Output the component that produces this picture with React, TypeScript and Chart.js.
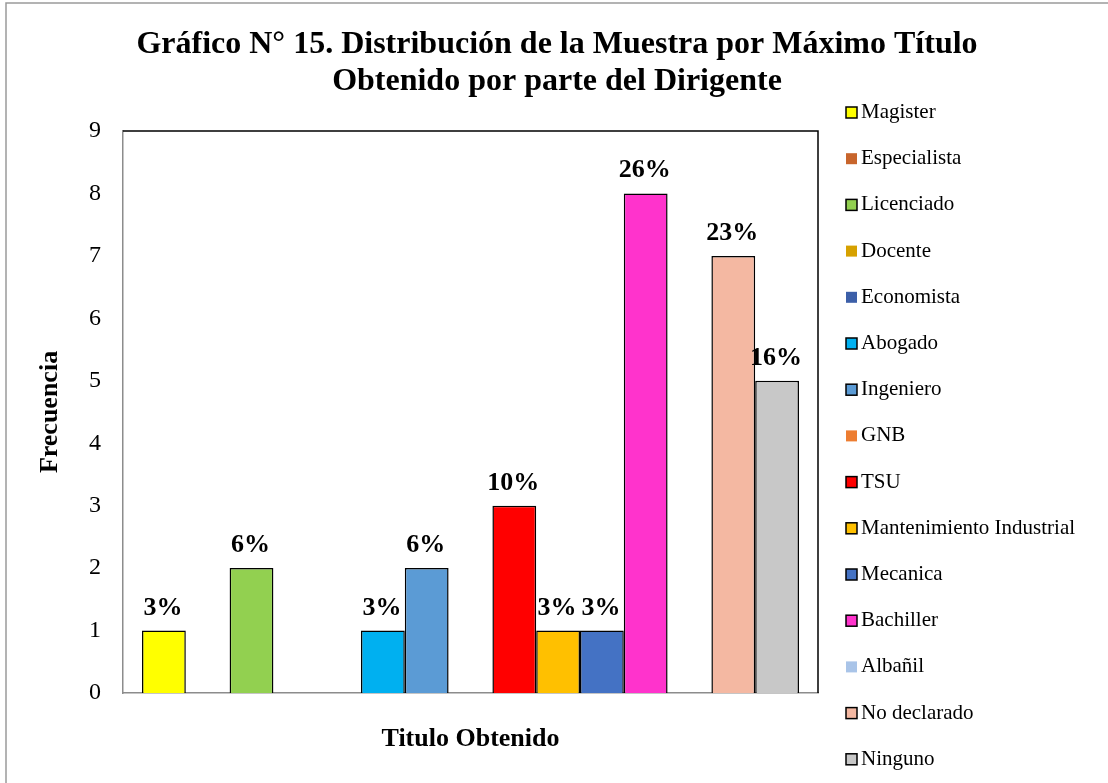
import React, { useEffect, useRef } from 'react';
import { Chart, registerables } from 'chart.js';

Chart.register(...registerables);

const categories = [
  'Magister',
  'Especialista',
  'Licenciado',
  'Docente',
  'Economista',
  'Abogado',
  'Ingeniero',
  'GNB',
  'TSU',
  'Mantenimiento Industrial',
  'Mecanica',
  'Bachiller',
  'Albañil',
  'No declarado',
  'Ninguno',
];
const values = [1, 0, 2, 0, 0, 1, 2, 0, 3, 1, 1, 8, 0, 7, 5];
const colors = [
  '#FFFF00',
  '#C8652C',
  '#92D050',
  '#D6A100',
  '#3C5FA8',
  '#00B0F0',
  '#5B9BD5',
  '#ED7D31',
  '#FF0000',
  '#FFC000',
  '#4472C4',
  '#FF33CC',
  '#A9C4E8',
  '#F4B8A2',
  '#C8C8C8',
];
const yMin = 0;
const yMax = 9;
const yStep = 1;
const titleLines = [
  'Gráfico N° 15. Distribución de la Muestra por Máximo Título',
  'Obtenido por parte del Dirigente',
];
const xTitle = 'Titulo Obtenido';
const yTitle = 'Frecuencia';

const FONT = '"Liberation Serif", "Times New Roman", serif';
const total = values.reduce((a, b) => a + b, 0);

const framePlugin = {
  id: 'frame',
  beforeDraw(chart: any) {
    const { ctx, width, height } = chart;
    ctx.save();
    ctx.fillStyle = '#fff';
    ctx.fillRect(0, 0, width, height);
    ctx.strokeStyle = '#9a9a9a';
    ctx.lineWidth = 1.5;
    ctx.beginPath();
    ctx.moveTo(6, height + 5);
    ctx.lineTo(6, 3);
    ctx.lineTo(width + 5, 3);
    ctx.stroke();
    ctx.restore();
  },
};

const plotBorderPlugin = {
  id: 'plotBorder',
  beforeDatasetsDraw(chart: any) {
    const { ctx, chartArea } = chart;
    ctx.save();
    ctx.strokeStyle = '#000';
    ctx.lineWidth = 1.5;
    ctx.beginPath();
    ctx.moveTo(chartArea.left, chartArea.top);
    ctx.lineTo(chartArea.right, chartArea.top);
    ctx.lineTo(chartArea.right, chartArea.bottom);
    ctx.stroke();
    ctx.restore();
  },
};

const pctLabelPlugin = {
  id: 'pctLabels',
  afterDatasetsDraw(chart: any) {
    const { ctx } = chart;
    ctx.save();
    ctx.font = `bold 26px ${FONT}`;
    ctx.fillStyle = '#000';
    ctx.textAlign = 'center';
    ctx.textBaseline = 'alphabetic';
    chart.data.datasets.forEach((ds: any, i: number) => {
      const v = ds.data[0];
      if (!v) return;
      const el = chart.getDatasetMeta(i).data[0];
      const txt = Math.round((v / total) * 100) + '%';
      ctx.fillText(txt, el.x - 1, el.y - 16);
    });
    ctx.restore();
  },
};

const legendPlugin = {
  id: 'sideLegend',
  afterDraw(chart: any) {
    const { ctx } = chart;
    const top = 112.5;
    const step = 46.2;
    ctx.save();
    ctx.font = `21px ${FONT}`;
    ctx.textAlign = 'left';
    ctx.textBaseline = 'middle';
    chart.data.datasets.forEach((ds: any, i: number) => {
      const cy = top + i * step;
      ctx.fillStyle = ds.backgroundColor;
      ctx.fillRect(846, cy - 5.5, 11, 11);
      if (ds.borderWidth > 0) {
        ctx.strokeStyle = '#000';
        ctx.lineWidth = 1.5;
        ctx.strokeRect(846, cy - 5.5, 11, 11);
      }
      ctx.fillStyle = '#000';
      ctx.fillText(ds.label, 861, cy);
    });
    ctx.restore();
  },
};

export default function App() {
  const canvasRef = useRef<HTMLCanvasElement | null>(null);

  useEffect(() => {
    if (!canvasRef.current) return;
    const chart = new Chart(canvasRef.current, {
      type: 'bar',
      data: {
        labels: [''],
        datasets: categories.map((name, i) => ({
          label: name,
          data: [values[i]],
          backgroundColor: colors[i],
          borderColor: '#000',
          borderWidth: values[i] > 0 ? 1.5 : 0,
          categoryPercentage: 0.9453,
          barPercentage: 1,
        })),
      },
      options: {
        responsive: false,
        animation: false,
        devicePixelRatio: 1,
        layout: { padding: { left: 6, right: 0, top: 0, bottom: 0 } },
        plugins: {
          legend: { display: false },
          tooltip: { enabled: false },
          title: {
            display: true,
            text: titleLines,
            color: '#000',
            font: { family: FONT, size: 32, weight: 'bold', lineHeight: 1.156 },
            padding: { top: 26.5, bottom: 30.5 },
          },
        },
        scales: {
          x: {
            type: 'category',
            grid: { display: false, drawTicks: false },
            border: { display: true, color: '#8c8c8c', width: 1.5 },
            ticks: { display: false },
            title: {
              display: true,
              text: xTitle,
              color: '#000',
              font: { family: FONT, size: 26, weight: 'bold', lineHeight: 1.2 },
              padding: { top: 0, bottom: 28.4 },
            },
            afterFit(scale: any) {
              scale.height = 90;
            },
          },
          y: {
            type: 'linear',
            position: 'left',
            min: yMin,
            max: yMax,
            grid: { display: false, drawTicks: false },
            border: { display: true, color: '#8c8c8c', width: 1.5 },
            ticks: {
              stepSize: yStep,
              color: '#000',
              padding: 22,
              font: { family: FONT, size: 24 },
            },
            title: {
              display: true,
              text: yTitle,
              color: '#000',
              font: { family: FONT, size: 26, weight: 'bold', lineHeight: 1.2 },
              padding: { top: 28.4, bottom: 0 },
            },
            afterFit(scale: any) {
              scale.width = 117;
            },
          },
          yR: {
            type: 'linear',
            position: 'right',
            grid: { display: false, drawTicks: false },
            border: { display: false },
            ticks: { display: false },
            afterFit(scale: any) {
              scale.width = 290;
            },
          },
        },
      } as any,
      plugins: [framePlugin, plotBorderPlugin, pctLabelPlugin, legendPlugin],
    });
    return () => chart.destroy();
  }, []);

  return (
    <div style={{ position: 'absolute', left: 0, top: 0, width: 1108, height: 783 }}>
      <canvas ref={canvasRef} width={1108} height={783} style={{ display: 'block' }} />
    </div>
  );
}
